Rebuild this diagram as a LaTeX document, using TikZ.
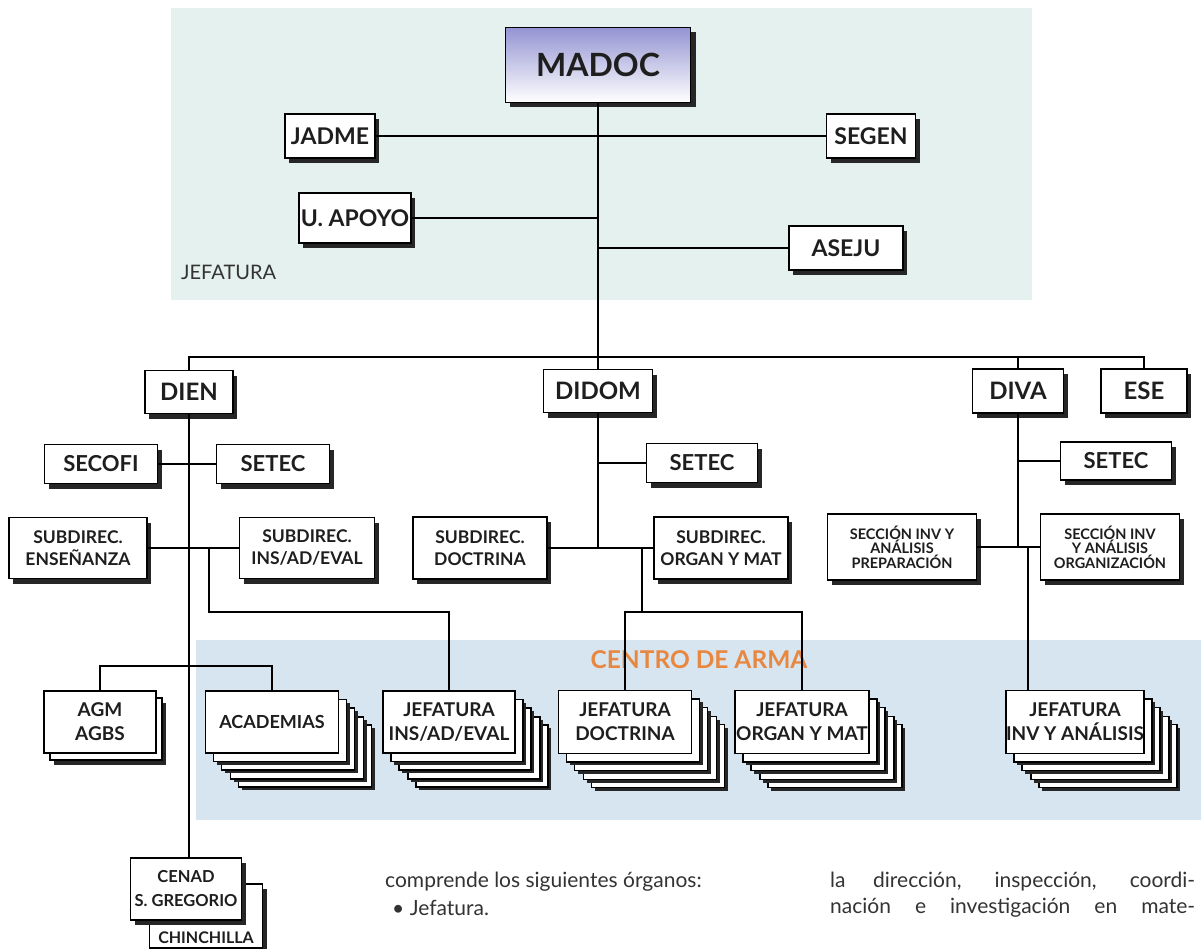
\documentclass[tikz,border=0pt]{standalone}
\usepackage{fontspec}
\setmainfont{Lato}
\usetikzlibrary{shadows}
\definecolor{jefbg}{HTML}{E5F1EE}
\definecolor{armabg}{HTML}{D7E5F1}
\definecolor{armaorange}{HTML}{E8873F}
\definecolor{madoctop}{HTML}{9494D4}
\definecolor{shadowgray}{HTML}{262626}
\definecolor{inktext}{HTML}{1E1E1E}
\definecolor{bodytext}{HTML}{333333}

\tikzset{
  panel/.style={draw=black,fill=white,line width=1.3pt,inner sep=0pt,align=center,text=inktext},
  box/.style={panel,drop shadow={shadow xshift=4pt,shadow yshift=-5pt,fill=shadowgray,opacity=1}},
  % four sheets behind the front one, farthest first
  stackbox/.style={panel,
    general shadow={shadow xshift=36pt,shadow yshift=-37pt,fill=shadowgray},
    general shadow={shadow xshift=33pt,shadow yshift=-34pt,fill=white,draw=black},
    general shadow={shadow xshift=28pt,shadow yshift=-29pt,fill=shadowgray},
    general shadow={shadow xshift=25pt,shadow yshift=-26pt,fill=white,draw=black},
    general shadow={shadow xshift=19pt,shadow yshift=-20pt,fill=shadowgray},
    general shadow={shadow xshift=16pt,shadow yshift=-17pt,fill=white,draw=black},
    general shadow={shadow xshift=11pt,shadow yshift=-11.5pt,fill=shadowgray},
    general shadow={shadow xshift=8pt,shadow yshift=-8.5pt,fill=white,draw=black}},
  pairbox/.style={panel,
    general shadow={shadow xshift=10pt,shadow yshift=-12pt,fill=shadowgray},
    general shadow={shadow xshift=6pt,shadow yshift=-7pt,fill=white,draw=black}},
  link/.style={draw=black,line width=1.3pt},
  headfont/.style={font=\bfseries\fontsize{23}{26}\selectfont},
  divfont/.style={font=\bfseries\fontsize{24}{26}\selectfont},
  secfont/.style={font=\bfseries\fontsize{22}{24}\selectfont},
  subfont/.style={font=\bfseries\fontsize{17.5}{22}\selectfont},
  tinyfont/.style={font=\bfseries\fontsize{14.5}{13.5}\selectfont},
  jeffont/.style={font=\bfseries\fontsize{19}{24}\selectfont},
  bodyfont/.style={font=\fontsize{21}{26}\selectfont,text=bodytext,inner sep=0pt}
}

\begin{document}
\begin{tikzpicture}[x=1pt,y=-1pt]
\useasboundingbox (0,0) rectangle (1201,949);

% shaded areas
\fill[jefbg] (171,8) rectangle (1032,300);
\fill[armabg] (196,640) rectangle (1201,820);
\node[anchor=west,inner sep=0pt,font=\fontsize{20}{22}\selectfont,text=bodytext] (jeflabel) at (181,272) {JEFATURA};
\node[font=\bfseries\fontsize{24.5}{28}\selectfont,text=armaorange] (armalabel) at (699,660) {CENTRO DE ARMA};

\coordinate (bus) at (0,357);
\coordinate (lowbus) at (0,612);
\coordinate (agmbar) at (0,666);

% jefatura
\node[box,font=\bfseries\fontsize{32}{34}\selectfont,top color=madoctop,bottom color=white,
  minimum width=185,minimum height=75,drop shadow={shadow xshift=5pt,shadow yshift=-5pt,fill=shadowgray,opacity=1}] (madoc) at (598,65) {MADOC};
\node[box,headfont,minimum width=90,minimum height=44] (jadme) at (330,136) {JADME};
\node[box,headfont,minimum width=89,minimum height=44] (segen) at (871,136) {SEGEN};
\node[box,headfont,minimum width=112,minimum height=50] (apoyo) at (355,218) {U. APOYO};
\node[box,headfont,minimum width=114,minimum height=44] (aseju) at (846,248) {ASEJU};

% direcciones
\node[box,divfont,minimum width=88,minimum height=43] (dien) at (189,392) {DIEN};
\node[box,divfont,minimum width=109,minimum height=43] (didom) at (598,391) {DIDOM};
\node[box,divfont,minimum width=91,minimum height=44] (diva) at (1018,391) {DIVA};
\node[box,divfont,minimum width=86,minimum height=44] (ese) at (1144,391) {ESE};

\node[box,secfont,minimum width=113,minimum height=39] (secofi) at (101,464) {SECOFI};
\node[box,secfont,minimum width=113,minimum height=39] (setecA) at (273,464) {SETEC};
\node[box,secfont,minimum width=111,minimum height=39] (setecB) at (702,463) {SETEC};
\node[box,secfont,minimum width=111,minimum height=38] (setecC) at (1116,461) {SETEC};

\node[box,subfont,minimum width=138,minimum height=61] (ense) at (78,548) {SUBDIREC.\\ENSEÑANZA};
\node[box,subfont,minimum width=135,minimum height=61] (insad) at (307,548) {SUBDIREC.\\INS/AD/EVAL};
\node[box,subfont,minimum width=134,minimum height=62] (doct) at (480,548) {SUBDIREC.\\DOCTRINA};
\node[box,subfont,minimum width=134,minimum height=62] (organ) at (721,548) {SUBDIREC.\\ORGAN Y MAT};
\node[box,tinyfont,minimum width=149,minimum height=66] (prep) at (902,547) {SECCIÓN INV Y\\ANÁLISIS\\PREPARACIÓN};
\node[box,tinyfont,minimum width=139,minimum height=66] (orgz) at (1110,547) {SECCIÓN INV\\Y ANÁLISIS\\ORGANIZACIÓN};

% centros
\node[pairbox,jeffont,minimum width=112,minimum height=62] (agm) at (100,722) {AGM\\AGBS};
\node[stackbox,font=\bfseries\fontsize{18}{22}\selectfont,minimum width=133,minimum height=62] (acad) at (272,722) {ACADEMIAS};
\node[stackbox,jeffont,minimum width=132,minimum height=62] (jins) at (449,722) {JEFATURA\\INS/AD/EVAL};
\node[stackbox,jeffont,minimum width=133,minimum height=63] (jdoc) at (625,722) {JEFATURA\\DOCTRINA};
\node[stackbox,jeffont,minimum width=134,minimum height=63] (jorg) at (802,722) {JEFATURA\\ORGAN Y MAT};
\node[stackbox,jeffont,minimum width=135,minimum height=63] (jinv) at (1075,722) {JEFATURA\\INV Y ANÁLISIS};

\node[box,minimum width=113,minimum height=64,
  label={[name=chinlabel,anchor=south,inner sep=5pt,font=\bfseries\fontsize{16}{18}\selectfont,text=inktext]south:CHINCHILLA}] (chin) at (206,916) {};
\node[box,font=\bfseries\fontsize{16.5}{24}\selectfont,minimum width=111,minimum height=62] (cenad) at (186,889) {CENAD\\S. GREGORIO};

% lineas
\draw[link] (madoc.south) -- (madoc.south |- bus);
\draw[link] (jadme.east) -- (segen.west);
\draw[link] (apoyo.east) -- (apoyo.east -| madoc.south);
\draw[link] (aseju.west) -- (aseju.west -| madoc.south);
\draw[link] (dien.north) -- (dien.north |- bus) -- (ese.north |- bus) -- (ese.north);
\draw[link] (didom.north) -- (didom.north |- bus);
\draw[link] (diva.north) -- (diva.north |- bus);

\draw[link] (dien.south) -- (dien.south |- cenad.north);
\draw[link] (secofi.east) -- (setecA.west);
\draw[link] (ense.east) -- (insad.west);
\coordinate (dienfork) at (209,548);
\draw[link] (dienfork) -- (dienfork |- lowbus) -| (jins.north);
\draw[link] (agm.north) |- (acad.north |- agmbar) -- (acad.north);

\draw[link] (didom.south) -- (didom.south |- doct.east);
\draw[link] (setecB.west) -- (setecB.west -| didom.south);
\draw[link] (doct.east) -- (organ.west);
\coordinate (didomfork) at (642,548);
\draw[link] (didomfork) -- (didomfork |- lowbus);
\draw[link] (jdoc.north) |- (jorg.north |- lowbus) -- (jorg.north);

\draw[link] (diva.south) -- (diva.south |- prep.east);
\draw[link] (setecC.west) -- (setecC.west -| diva.south);
\draw[link] (prep.east) -- (orgz.west);
\coordinate (divafork) at (1028,547);
\draw[link] (divafork) -- (divafork |- jinv.north);

% texto
\node[anchor=west,bodyfont] (bodyA) at (385,882) {comprende los siguientes órganos:};
\node[anchor=west,bodyfont] (bodyB) at (392,908) {• Jefatura.};
\node[anchor=west,bodyfont] (bodyC) at (830,882) {\makebox[365pt][s]{la dirección, inspección, coordi-}};
\node[anchor=west,bodyfont] (bodyD) at (830,908) {\makebox[365pt][s]{nación e investigación en mate-}};
\end{tikzpicture}
\end{document}
